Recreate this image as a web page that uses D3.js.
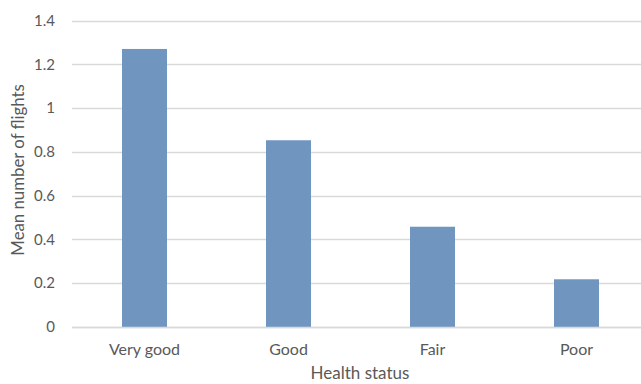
<!DOCTYPE html>
<html>
<head>
<meta charset="utf-8">
<script src="https://cdn.jsdelivr.net/npm/d3@7"></script>
<style>
  html, body { margin: 0; padding: 0; background: #fff; }
  svg { display: block; }
  text { font-family: Lato, "Open Sans", sans-serif; fill: #595959; }
</style>
</head>
<body>
<svg id="chart" width="641" height="384"></svg>
<script>
const categories = ["Very good", "Good", "Fair", "Poor"];
const values = [1.27, 0.853, 0.458, 0.218];
const yTicks = [0, 0.2, 0.4, 0.6, 0.8, 1, 1.2, 1.4];
const yTitle = "Mean number of flights";
const xTitle = "Health status";

const W = 641, H = 384;
const svg = d3.select("#chart");

const x = d3.scaleBand()
  .domain(categories)
  .range([72.5, 648.5])
  .paddingInner(0.6875)
  .paddingOuter(0.34375);

const y = d3.scaleLinear().domain([0, 1.4]).range([327, 20.5]);

// gridlines
svg.append("g")
  .selectAll("line")
  .data(yTicks)
  .join("line")
  .attr("x1", 72)
  .attr("x2", W)
  .attr("y1", d => Math.round(y(d)) + 0.5)
  .attr("y2", d => Math.round(y(d)) + 0.5)
  .attr("stroke", "#d9d9d9")
  .attr("stroke-width", 1.3);

// y tick labels
svg.append("g")
  .selectAll("text")
  .data(yTicks)
  .join("text")
  .attr("x", 55)
  .attr("y", d => y(d))
  .attr("dy", "0.35em")
  .attr("text-anchor", "end")
  .style("font-size", "15px")
  .text(d => d3.format("")(+d.toFixed(1)));

// bars
svg.append("g")
  .selectAll("rect")
  .data(values)
  .join("rect")
  .attr("x", (d, i) => x(categories[i]))
  .attr("width", x.bandwidth())
  .attr("y", d => y(d))
  .attr("height", d => y(0) - y(d))
  .attr("fill", "#7096c0");

// redraw zero line on top
svg.append("line")
  .attr("x1", 72).attr("x2", W)
  .attr("y1", Math.round(y(0)) + 0.5).attr("y2", Math.round(y(0)) + 0.5)
  .attr("stroke", "#d9d9d9").attr("stroke-width", 1.3);

// x category labels
svg.append("g")
  .selectAll("text")
  .data(categories)
  .join("text")
  .attr("x", d => x(d) + x.bandwidth() / 2)
  .attr("y", 355)
  .attr("text-anchor", "middle")
  .style("font-size", "16px")
  .text(d => d);

// axis titles
svg.append("text")
  .attr("x", 360)
  .attr("y", 379)
  .attr("text-anchor", "middle")
  .style("font-size", "17px")
  .text(xTitle);

svg.append("text")
  .attr("transform", "translate(24,170) rotate(-90)")
  .attr("text-anchor", "middle")
  .style("font-size", "16.8px")
  .text(yTitle);
</script>
</body>
</html>
